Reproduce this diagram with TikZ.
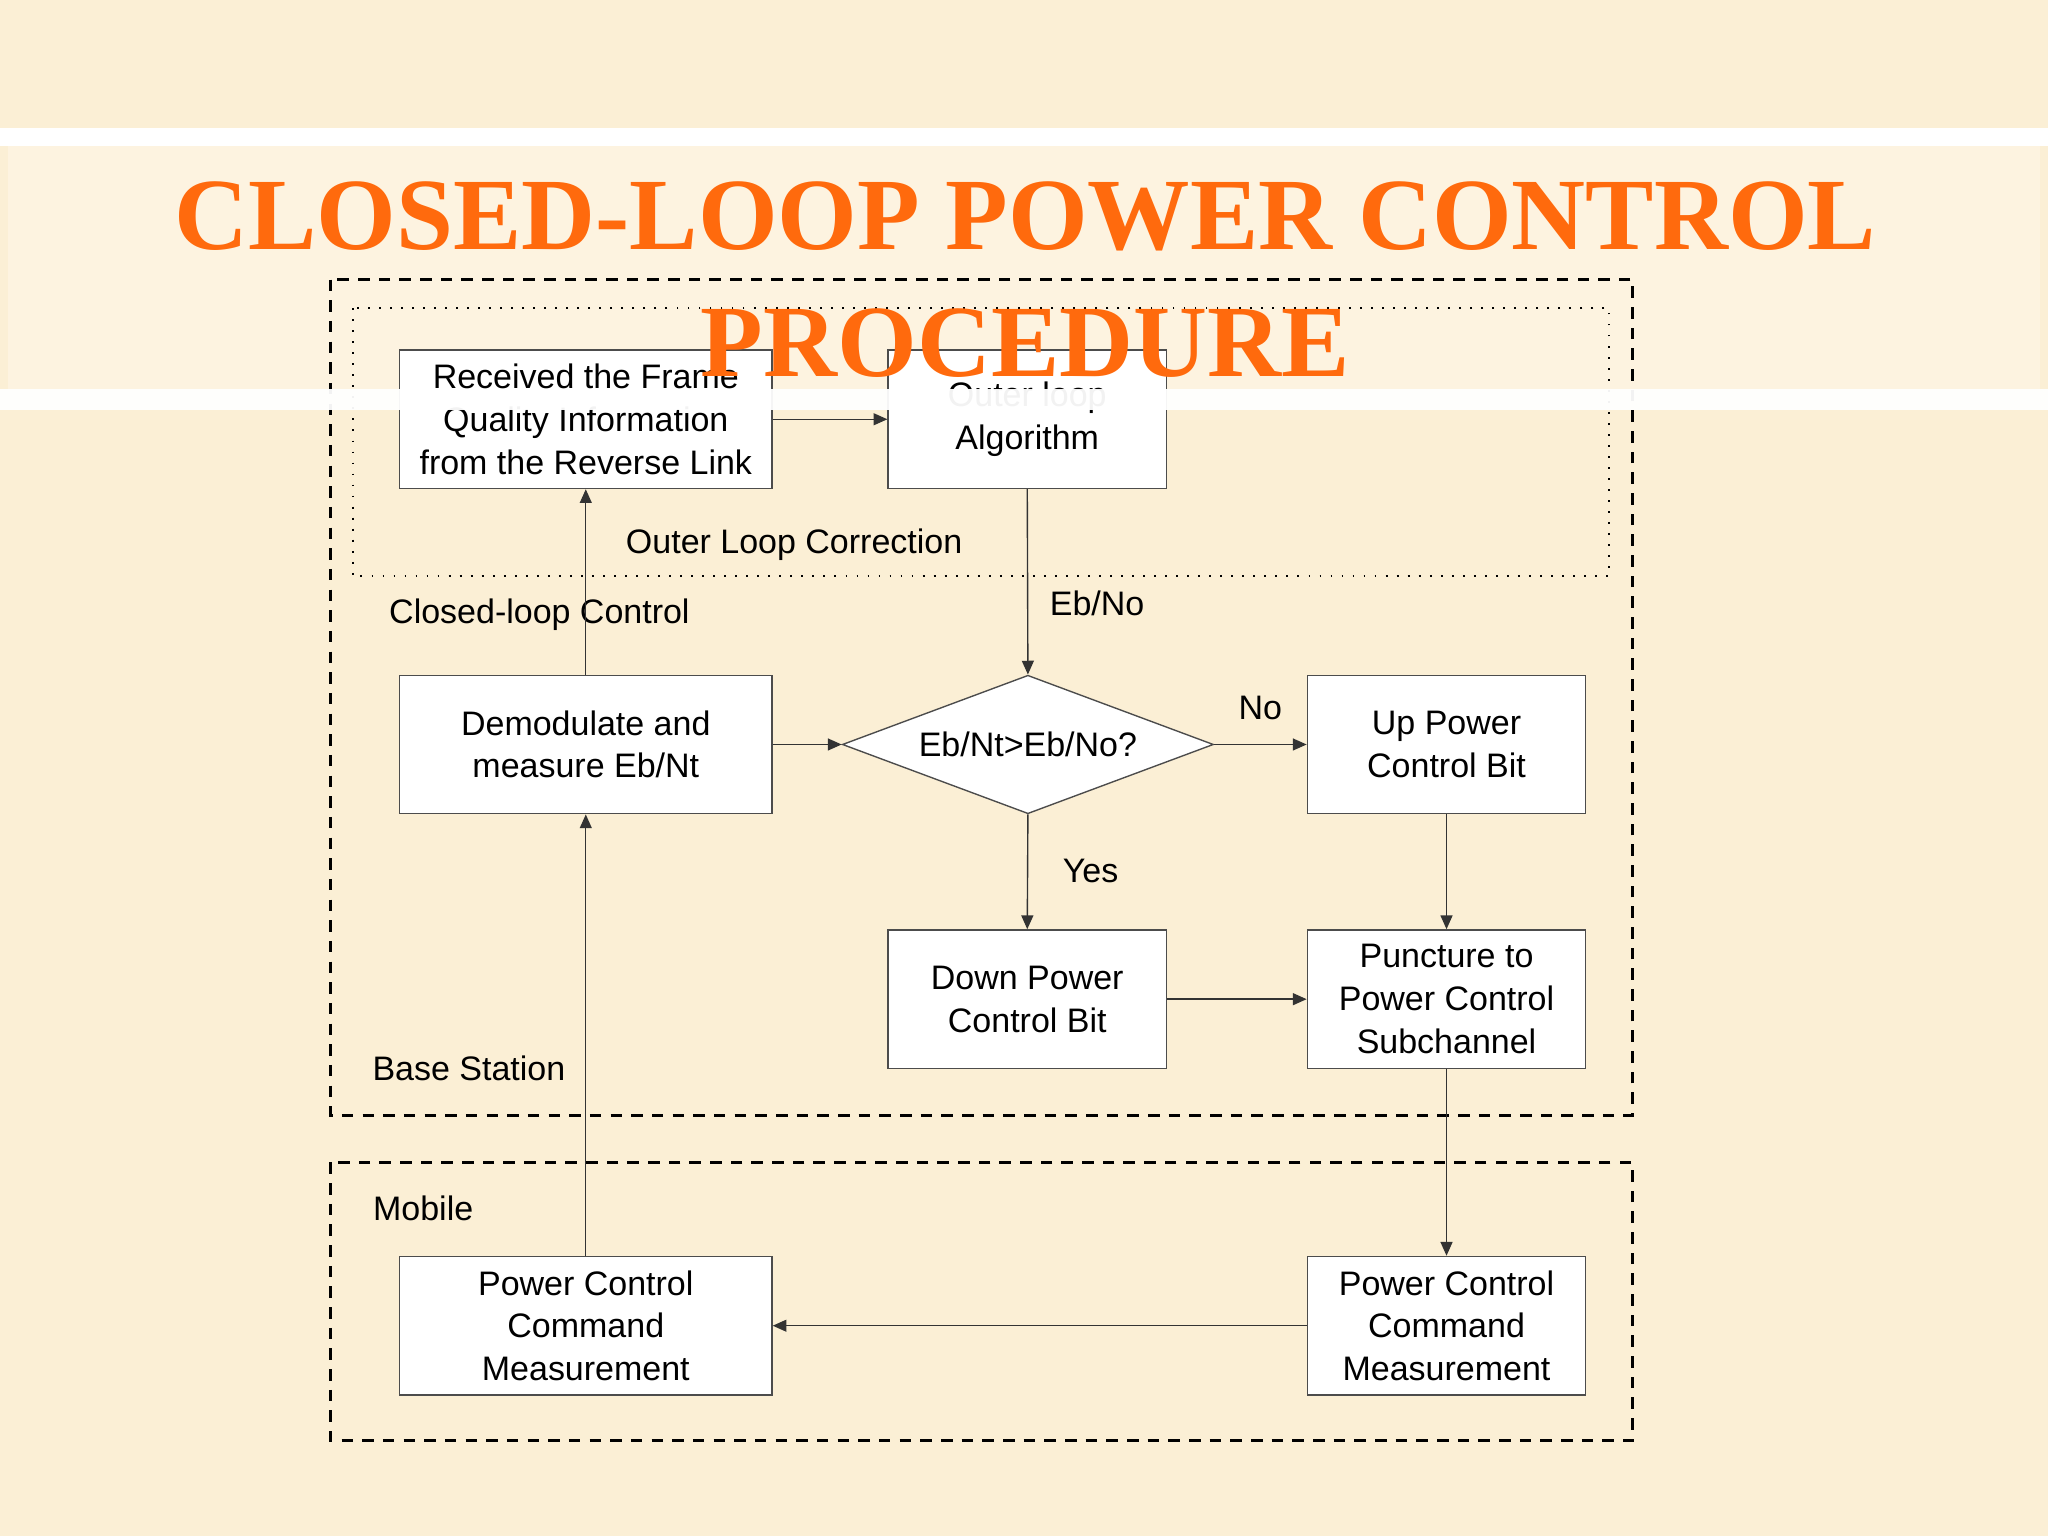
\documentclass[tikz,border=0pt]{standalone}
\usepackage{fontspec}
\setmainfont{Liberation Sans}
\newfontfamily\titlefont{Liberation Serif}
\usetikzlibrary{arrows.meta, positioning, shapes.geometric}
\definecolor{paper}{HTML}{FBEFD5}
\definecolor{band}{HTML}{FDF3E0}
\definecolor{titleorange}{HTML}{FF6A0D}
\tikzset{
  blk/.style={rectangle, draw=black!70, line width=0.3pt, fill=white, align=center,
    minimum width=2.85cm, minimum height=1.06cm, font=\fontsize{7.4}{9.3}\selectfont, inner sep=1pt},
  blk/s/.style={blk, minimum width=2.13cm},
  dec/.style={diamond, draw=black!70, line width=0.3pt, fill=white, aspect=2.68,
    minimum width=2.84cm, minimum height=1.06cm, inner sep=0pt, font=\fontsize{7.4}{9.3}\selectfont},
  ar/.style={-{Triangle[length=3pt,width=2.6pt]}, line width=0.3pt, draw=black!80},
  lb/.style={font=\fontsize{7.4}{9.3}\selectfont, inner sep=0pt},
  zone/.style={dashed, line width=0.6pt, dash pattern=on 2.5pt off 2pt},
}
\begin{document}
\begin{tikzpicture}[x=0.01cm, y=-0.01cm]
\fill[paper] (0,0) rectangle (1568,1176);
\useasboundingbox (0,0) rectangle (1568,1176);
% title band behind
\fill[white] (0,98) rectangle (1568,112);
\fill[band] (6,112) rectangle (1562,298);

% zones
\draw[zone] (253,214) rectangle (1250,854);
\draw[dotted, line width=0.4pt] (270,236) rectangle (1232,441);
\draw[zone] (253,890) rectangle (1250,1103);

% blocks
\node[blk]   (recv)  at (448.5,321) {Received the Frame\\Quality Information\\from the Reverse Link};
\node[blk/s] (outer) at (786.5,321) {Outer loop\\Algorithm};
\node[blk]   (demod) at (448.5,570) {Demodulate and\\measure Eb/Nt};
\node[dec]   (cmp)   at (787,570)   {Eb/Nt>Eb/No?};
\node[blk/s] (up)    at (1107.5,570) {Up Power\\Control Bit};
\node[blk/s] (down)  at (786.5,765) {Down Power\\Control Bit};
\node[blk/s] (punc)  at (1107.5,765) {Puncture to\\Power Control\\Subchannel};
\node[blk/s] (mright) at (1107.5,1015) {Power Control\\Command\\Measurement};
\node[blk]   (mleft) at (448.5,1015) {Power Control\\Command\\Measurement};

% labels
\node[lb] (olc) at (608,417) {Outer Loop Correction};
\node[lb] (clc) at (413,471) {Closed-loop Control};
\node[lb] (ebno) at (840,462) {Eb/No};
\node[lb] (no)  at (965,542) {No};
\node[lb] (yes) at (835,667) {Yes};
\node[lb] (bs)  at (359,818) {Base Station};
\node[lb] (mob) at (324,925) {Mobile};

% connectors
\draw[ar] (demod.north) -- (recv.south);
\draw[ar] (recv.east) -- (outer.west);
\draw[ar] (outer.south) -- (cmp.north);
\draw[ar] (demod.east) -- (cmp.west);
\draw[ar] (cmp.east) -- (up.west);
\draw[ar] (cmp.south) -- (down.north);
\draw[ar] (up.south) -- (punc.north);
\draw[ar] (down.east) -- (punc.west);
\draw[ar] (punc.south) -- (mright.north);
\draw[ar] (mright.west) -- (mleft.east);
\draw[ar] (mleft.north) -- (demod.south);

% title strip over
\fill[white, opacity=0.95] (0,298) rectangle (1568,314);
\node[text=titleorange, font=\titlefont\bfseries\fontsize{22.3}{27.5}\selectfont, align=center]
  (title) at (785,214) {CLOSED-LOOP POWER CONTROL\\PROCEDURE};
\end{tikzpicture}
\end{document}
